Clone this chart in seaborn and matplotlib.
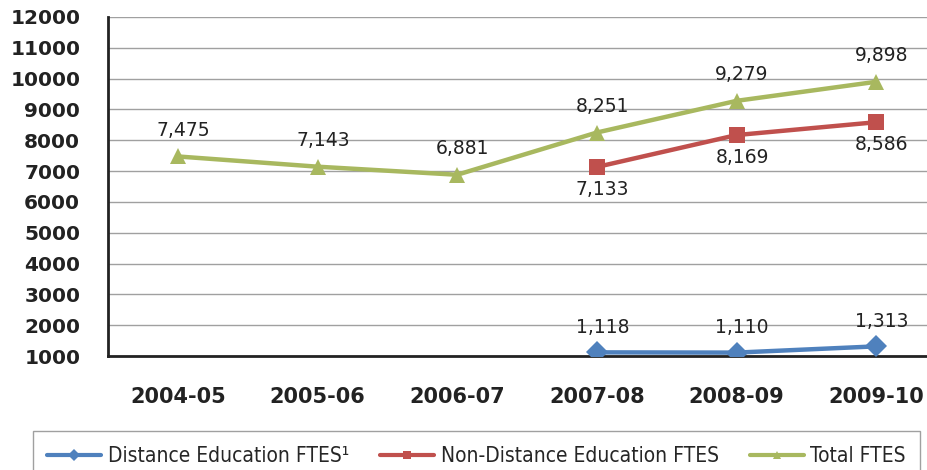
import numpy as np
import pandas as pd
import seaborn as sns
import matplotlib.pyplot as plt
from matplotlib.lines import Line2D

# Dados do gráfico
anos = ['2004-05', '2005-06', '2006-07', '2007-08', '2008-09', '2009-10']
distancia = [np.nan, np.nan, np.nan, 1118, 1110, 1313]
nao_distancia = [np.nan, np.nan, np.nan, 7133, 8169, 8586]
total = [7475, 7143, 6881, 8251, 9279, 9898]

nomes = ['Distance Education FTES¹', 'Non-Distance Education FTES', 'Total FTES']
cores = ['#4F81BD', '#C0504D', '#A8B85F']
marcadores = ['D', 's', '^']

df = pd.DataFrame({
    'ano': anos * 3,
    'pos': list(range(len(anos))) * 3,
    'ftes': distancia + nao_distancia + total,
    'serie': [nomes[0]] * 6 + [nomes[1]] * 6 + [nomes[2]] * 6,
}).dropna()

sns.set_style('white')
fig = plt.figure(figsize=(9.27, 4.7), dpi=100)
ax = fig.add_axes([108 / 927, 1 - 356 / 470, (946 - 108) / 927, (356 - 17) / 470])

sns.lineplot(data=df, x='pos', y='ftes', hue='serie', style='serie',
             hue_order=nomes, style_order=nomes, palette=cores,
             markers=dict(zip(nomes, marcadores)), dashes=False,
             linewidth=3.2, markersize=11, markeredgewidth=0,
             legend=False, ax=ax, zorder=3)

ax.set_xlim(-0.5, 5.5)
ax.set_ylim(1000, 12000)
ax.set_yticks(range(1000, 12001, 1000))
ax.set_xticks(range(len(anos)))
ax.set_xticklabels(anos, fontsize=15, fontweight='bold', color='#222222')
ax.set_xticks(np.arange(0.5, 5.5, 1), minor=True)
ax.tick_params(axis='y', labelsize=14.5, length=8, width=1.5, pad=12,
               color='#222222', labelcolor='#222222')
for t in ax.get_yticklabels():
    t.set_fontweight('bold')
ax.tick_params(axis='x', which='major', length=0, pad=22)
ax.tick_params(axis='x', which='minor', length=7, width=1.5, color='#222222', direction='out')
ax.set_xlabel('')
ax.set_ylabel('')
ax.yaxis.grid(True, color='#a0a0a0', linewidth=1)
ax.set_axisbelow(True)
for s in ['top', 'right']:
    ax.spines[s].set_visible(False)
for s in ['left', 'bottom']:
    ax.spines[s].set_color('#222222')
    ax.spines[s].set_linewidth(2)

# Rótulos dos valores
def rotular(valores, dy, dx=4):
    for i, v in enumerate(valores):
        if not np.isnan(v):
            ax.annotate(f'{int(v):,}', (i, v), xytext=(dx, dy), textcoords='offset points',
                        ha='center', va='center', fontsize=13.5, color='#222222')

rotular(total, 19)
rotular(nao_distancia, -16)
rotular(distancia, 18)

# Legenda
handles = [Line2D([0], [0], color=c, marker=m, linewidth=3, markersize=6, markeredgewidth=0)
           for c, m in zip(cores, marcadores)]
leg = fig.legend(handles, nomes, loc='center', bbox_to_anchor=(0.514, 0.03), ncol=3,
                 frameon=True, fancybox=False, edgecolor='#888888', handlelength=2.6,
                 columnspacing=1.5, handletextpad=0.3, borderpad=0.7,
                 prop={'family': 'DejaVu Sans', 'stretch': 'condensed', 'size': 15})

plt.savefig('out.png', dpi=100)
